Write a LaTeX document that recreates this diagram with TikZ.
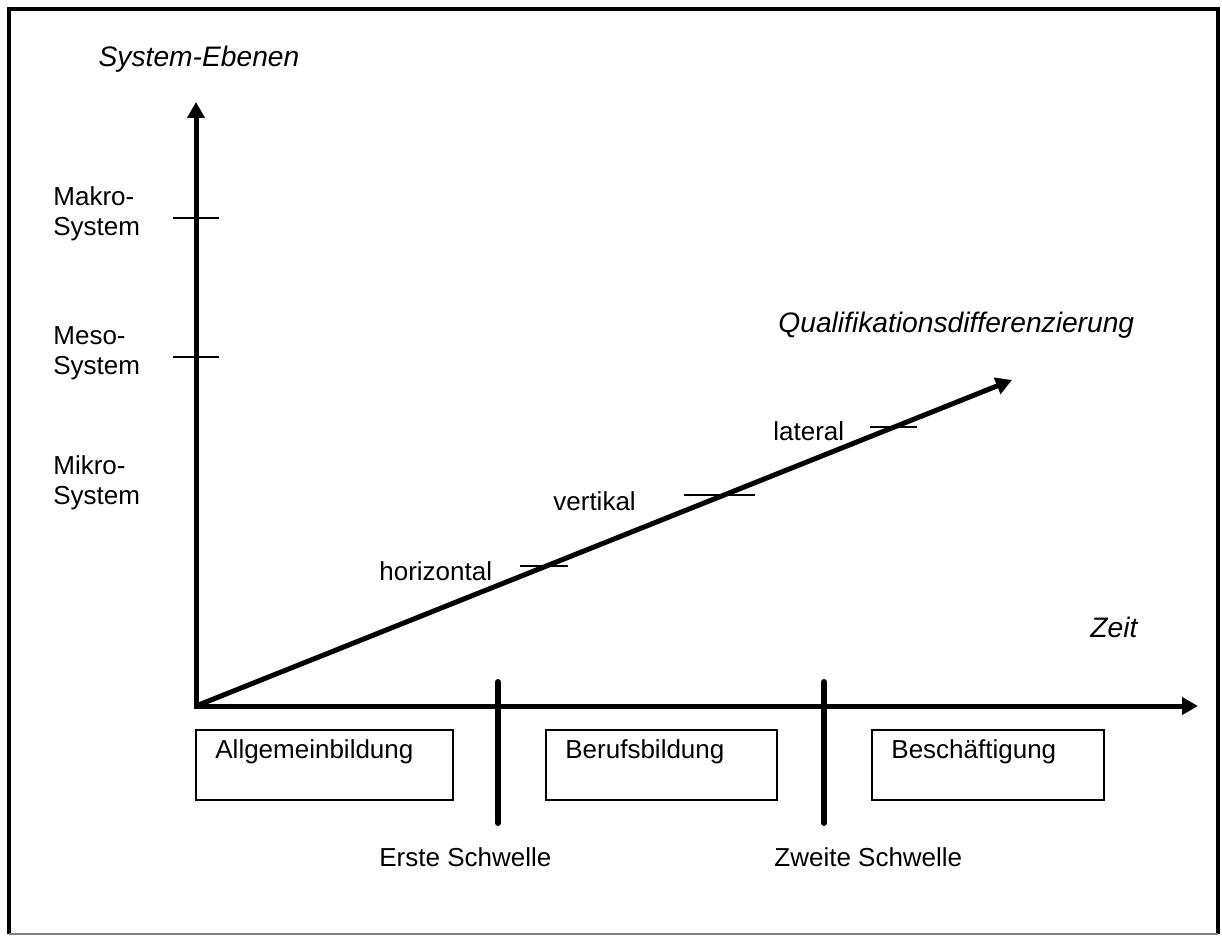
\documentclass[tikz,border=0pt]{standalone}
\usepackage{fontspec}
\setmainfont{Liberation Sans}
\usetikzlibrary{arrows.meta}
\begin{document}
\begin{tikzpicture}[x=0.5pt,y=-0.5pt,
  every node/.style={font=\fontsize{13}{15}\selectfont, inner sep=0pt, align=left},
  axis/.style={line width=2.5pt, line cap=rect, -{Triangle[length=8pt,width=8.5pt]}},
  tickmark/.style={line width=0.75pt},
  threshold/.style={line width=3pt, line cap=round},
  phasebox/.style={draw, line width=0.75pt, anchor=north west, minimum height=35pt},
  lbl/.style={anchor=west},
  axlbl/.style={font=\fontsize{14.1}{17}\selectfont\itshape}]
  \useasboundingbox (0,0) rectangle (1222,936);

  % outer frame
  \draw[line width=2pt] (9,934) -- (9,9) -- (1218,9) -- (1218,934);
  \draw[line width=0.6pt, gray] (9,934) -- (1218,934);

  % axes
  \coordinate (O) at (196,706);
  \coordinate (ytip) at (196,102);
  \coordinate (xtip) at (1198,706);
  \coordinate (qtip) at (1012,380);
  \draw[axis] (O) -- (ytip);
  \draw[axis] (O) -- (xtip);
  \draw[line width=2.5pt, -{Triangle[length=8pt,width=8.5pt]}] (O) -- (qtip);

  % axis titles
  \node[axlbl] (ytitle) at (199,59) {System-Ebenen};
  \node[axlbl, anchor=west] (qtitle) at (778,325) {Qualifikationsdifferenzierung};
  \node[axlbl, anchor=west] (xtitle) at (1090,627) {Zeit};

  % system levels
  \draw[tickmark] (173,218) -- (219,218);
  \draw[tickmark] (173,357) -- (219,357);
  \node[lbl] (makro) at (53,214) {Makro-\\System};
  \node[lbl] (meso) at (53,353) {Meso-\\System};
  \node[lbl] (mikro) at (53,483) {Mikro-\\System};

  % differentiation marks
  \draw[tickmark] (520,566) -- (568,566);
  \draw[tickmark] (684,495) -- (755,495);
  \draw[tickmark] (870,427) -- (917,427);
  \node[lbl] (horiz) at (379,571) {horizontal};
  \node[lbl] (vert) at (553,501) {vertikal};
  \node[lbl] (lat) at (773,431) {lateral};

  % thresholds
  \coordinate (s1top) at (498,682);
  \coordinate (s1bot) at (498,823);
  \coordinate (s2top) at (824,682);
  \coordinate (s2bot) at (824,823);
  \draw[threshold] (s1top) -- (s1bot);
  \draw[threshold] (s2top) -- (s2bot);
  \node[lbl] (erste) at (379,857) {Erste Schwelle};
  \node[lbl] (zweite) at (774,857) {Zweite Schwelle};

  % phases
  \node[phasebox, minimum width=128.5pt] (allg) at (195,729) {};
  \node[phasebox, minimum width=115.5pt] (beruf) at (545,729) {};
  \node[phasebox, minimum width=116pt] (besch) at (871,729) {};
  \node[lbl] (allgt) at (215,752) {Allgemeinbildung};
  \node[lbl] (beruft) at (565,752) {Berufsbildung};
  \node[lbl] (bescht) at (891,752) {Beschäftigung};
\end{tikzpicture}
\end{document}
